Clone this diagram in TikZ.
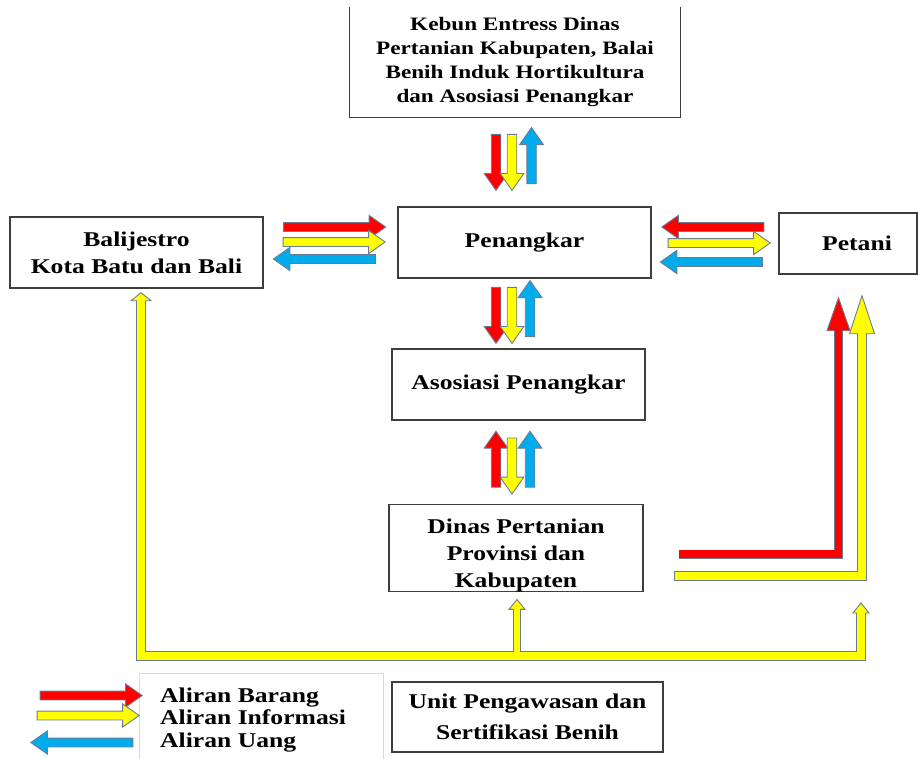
\documentclass[tikz,border=0pt]{standalone}
\usepackage{fontspec}
\setmainfont{Liberation Serif}[FakeStretch=1.22]
\usetikzlibrary{positioning, calc, shapes.arrows}
\definecolor{boxline}{RGB}{62,62,62}
\definecolor{rim}{RGB}{104,124,148}
\definecolor{flowred}{RGB}{255,0,0}
\definecolor{flowyellow}{RGB}{255,255,0}
\definecolor{flowblue}{RGB}{0,172,236}
\definecolor{legline}{RGB}{218,218,218}
\newcommand{\uphead}[4]{%
  \filldraw[draw=rim, fill=#1, line width=0.9pt]
    ([xshift=-#3,yshift=-#4]#2) -- (#2) -- ([xshift=#3,yshift=-#4]#2) -- cycle;}

\begin{document}
\begin{tikzpicture}[
  x=1pt, y=-1pt,
  font=\bfseries\fontsize{21}{27}\selectfont,
  box/.style={draw=boxline, line width=1.4pt, fill=white, align=center, inner sep=0pt},
  sarr/.style={single arrow, draw=rim, line width=0.9pt, inner xsep=0pt,
               text height=0pt, text depth=0pt, single arrow tip angle=70},
  varr/.style={sarr, inner ysep=4.3pt, minimum width=21pt, minimum height=56pt},
  harr/.style={sarr, inner ysep=4pt, minimum width=15pt, minimum height=102pt},
  legtext/.style={anchor=base west, inner sep=0pt}
]
\useasboundingbox (0,0) rectangle (918,758);

\node[box, draw=none, minimum width=330pt, minimum height=109pt,
      font=\bfseries\fontsize{19}{24}\selectfont] (kebun) at (515,62.5)
  {Kebun Entress Dinas\\ Pertanian Kabupaten, Balai\\ Benih Induk Hortikultura\\ dan Asosiasi Penangkar};
\draw[boxline, line width=1.4pt] (kebun.north west) -- (kebun.south west)
  -- (kebun.south east) -- (kebun.north east);

\node[box, minimum width=253pt, minimum height=71pt] (pen) at (524.5,242.5) {Penangkar};
\node[box, minimum width=253pt, minimum height=71pt] (bali) at (136.5,252.5)
  {Balijestro\\ Kota Batu dan Bali};
\node[box, minimum width=138pt, minimum height=61pt] (petani) at (848,243.5) {\hspace*{18pt}Petani};
\node[box, minimum width=253pt, minimum height=71pt] (asos) at (518.5,384.5) {Asosiasi Penangkar};
\node[box, minimum width=254pt, minimum height=84pt] (dinas) at (516,548)
  {\rule{0pt}{29pt}Dinas Pertanian\\ Provinsi dan\\ Kabupaten};
\node[box, minimum width=271pt, minimum height=70pt,
      font=\bfseries\fontsize{21}{31}\selectfont] (unit) at (527.5,717)
  {Unit Pengawasan dan\\ Sertifikasi Benih};

% kebun <-> penangkar
\node[varr, fill=flowred, rotate=-90] (k1) at ($(kebun.south)!.5!(pen.north)+(-23.75,-3)$) {};
\node[varr, fill=flowyellow, rotate=-90] (k2) at ($(kebun.south)!.5!(pen.north)+(-7.75,-3)$) {};
\node[varr, fill=flowblue, rotate=90] (k3) at ($(kebun.south)!.5!(pen.north)+(11.75,-3)$) {};

% penangkar <-> asosiasi
\node[varr, fill=flowred, rotate=-90] (p1) at ($(pen.south)!.5!(asos.north)+(-25.5,-1.5)$) {};
\node[varr, fill=flowyellow, rotate=-90] (p2) at ($(pen.south)!.5!(asos.north)+(-9.5,-1.5)$) {};
\node[varr, fill=flowblue, rotate=90] (p3) at ($(pen.south)!.5!(asos.north)+(8.5,-1.5)$) {};

% asosiasi <-> dinas
\node[varr, fill=flowred, rotate=90] (a1) at ($(asos.south)!.5!(dinas.north)+(-21.25,0.5)$) {};
\node[varr, fill=flowyellow, rotate=-90] (a2) at ($(asos.south)!.5!(dinas.north)+(-5.25,0.5)$) {};
\node[varr, fill=flowblue, rotate=90] (a3) at ($(asos.south)!.5!(dinas.north)+(12.75,0.5)$) {};

% balijestro <-> penangkar
\node[harr, fill=flowred] (b1) at ($(bali.east)!.5!(pen.west)+(1,-20.5)$) {};
\node[harr, fill=flowyellow] (b2) at ($(bali.east)!.5!(pen.west)+(0.5,-5.5)$) {};
\node[harr, fill=flowblue, rotate=180] (b3) at ($(bali.east)!.5!(pen.west)+(-3,11.5)$) {};

% penangkar <-> petani
\node[harr, fill=flowred, rotate=180] (t1) at ($(pen.east)!.5!(petani.west)+(1,-16)$) {};
\node[harr, fill=flowyellow] (t2) at ($(pen.east)!.5!(petani.west)+(1,0)$) {};
\node[harr, fill=flowblue, rotate=180] (t3) at ($(pen.east)!.5!(petani.west)+(-0.5,19)$) {};

% dinas -> petani
\coordinate (rs) at (683,554);
\coordinate (rtip) at ([xshift=-9.5pt,yshift=-23pt]petani.south);
\coordinate (ys) at (679,576);
\coordinate (ytip) at ([xshift=14pt,yshift=-21pt]petani.south);
\draw[rim, line width=9pt, line cap=rect] (rs) -| ([yshift=-33pt]rtip);
\draw[rim, line width=10.5pt, line cap=rect] (ys) -| ([yshift=-38pt]ytip);
\uphead{flowred}{rtip}{11.5pt}{33pt}
\uphead{flowyellow}{ytip}{12.5pt}{38pt}
\draw[flowred, line width=7.2pt, line cap=rect] (rs) -| ([yshift=-31pt]rtip);
\draw[flowyellow, line width=8.7pt, line cap=rect] (ys) -| ([yshift=-36pt]ytip);

% unit -> balijestro, dinas, petani
\coordinate (lt) at ([xshift=4.5pt,yshift=-4pt]bali.south);
\coordinate (mt) at ([xshift=1pt,yshift=-7pt]dinas.south);
\coordinate (qt) at (861,603);
\coordinate (yb) at (141,656);
\draw[rim, line width=10.5pt] ([yshift=-8pt]lt) -- (lt |- yb) -- (qt |- yb) -- ([yshift=-10pt]qt);
\draw[rim, line width=8.5pt] (mt |- yb) -- ([yshift=-10pt]mt);
\uphead{flowyellow}{lt}{10pt}{8pt}
\uphead{flowyellow}{mt}{8pt}{10pt}
\uphead{flowyellow}{qt}{8pt}{10pt}
\draw[flowyellow, line width=8.7pt] ([yshift=-6pt]lt) -- (lt |- yb) -- (qt |- yb) -- ([yshift=-8pt]qt);
\draw[flowyellow, line width=6.7pt] (mt |- yb) -- ([yshift=-8pt]mt);

% legend
\draw[legline, line width=0.7pt] (139,775) |- (383,673) -- (383,775);
\node[legtext] (lb) at (160,702) {Aliran Barang};
\node[legtext] (li) at (160,724) {Aliran Informasi};
\node[legtext] (lu) at (160,747) {Aliran Uang};
\node[harr, fill=flowred] (l1) at ($(lb.base west)+(-72,-6.5)$) {};
\node[harr, fill=flowyellow] (l2) at ($(li.base west)+(-75,-8.5)$) {};
\node[harr, fill=flowblue, rotate=180] (l3) at ($(lu.base west)+(-75,-4.5)$) {};

\end{tikzpicture}
\end{document}
